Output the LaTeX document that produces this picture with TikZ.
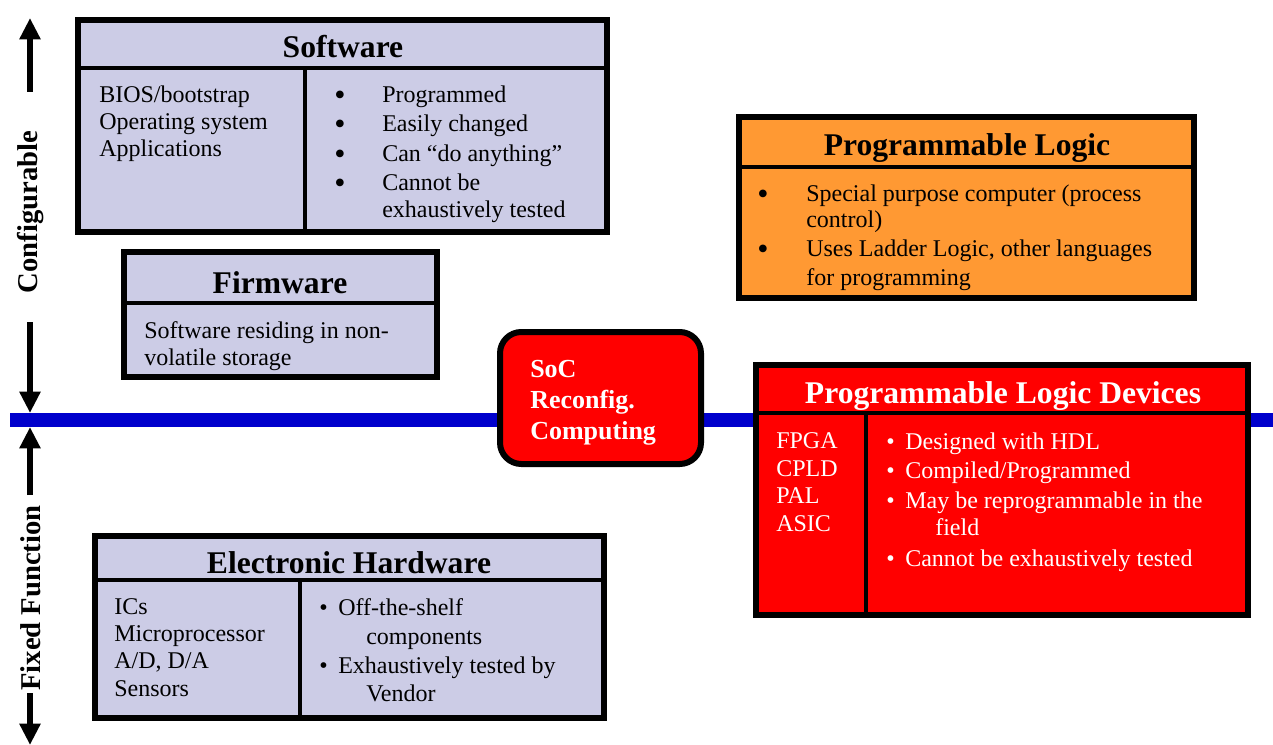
\documentclass[tikz,border=0pt]{standalone}
\usepackage{fontspec}
\setmainfont{Liberation Serif}
\usetikzlibrary{arrows.meta,fit}
\definecolor{lav}{HTML}{CCCCE6}
\definecolor{orng}{HTML}{FF9933}
\definecolor{rd}{HTML}{FF0000}
\definecolor{blu}{HTML}{0000CC}
\begin{document}
\begin{tikzpicture}[x=0.75pt,y=-0.75pt,
 box/.style={draw=black, line width=3.8pt, inner sep=0pt},
 rule/.style={draw=black, line width=2.6pt},
 txt/.style={font=\fontsize{18}{21}\selectfont, inner sep=0pt, anchor=base west},
 wtxt/.style={txt, text=white},
 bigbul/.style={font=\fontsize{24}{26}\selectfont, inner sep=0pt, anchor=center},
 ttl/.style={font=\bfseries\fontsize{23.7}{27}\selectfont, inner sep=0pt, anchor=base},
 soct/.style={font=\bfseries\fontsize{19.5}{23}\selectfont, inner sep=0pt, anchor=base west, text=white},
 axislbl/.style={font=\bfseries\fontsize{21.5}{25}\selectfont, inner sep=0pt, rotate=90},
 axarrow/.style={line width=4.5pt, -{Triangle[width=15pt,length=16pt]}},
]
\useasboundingbox (0,0) rectangle (1273,745);

% blue divider line
\coordinate (bl) at (10,420);
\coordinate (br) at (1273,420);
\draw[blu, line width=11pt] (bl) -- (br);

% left axis arrows
\coordinate (a1s) at (30,92);  \coordinate (a1e) at (30,18);
\coordinate (a2s) at (30,322); \coordinate (a2e) at (30,413);
\coordinate (a3s) at (30,495); \coordinate (a3e) at (30,427);
\coordinate (a4s) at (30,693); \coordinate (a4e) at (30,745);
\draw[axarrow] (a1s) -- (a1e);
\draw[axarrow] (a2s) -- (a2e);
\draw[axarrow] (a3s) -- (a3e);
\draw[axarrow] (a4s) -- (a4e);
\node[axislbl] (cfg) at (31,212) {Configurable};
\node[axislbl] (fix) at (31,598) {Fixed Function};

% Software
\node[box, fill=lav, fit={(78,20) (607,232)}] (sw) {};
\draw[rule] (78,68) -- (607,68);
\draw[rule] (305,68) -- (305,232);
\node[ttl] (swt) at (343,58) {Software};
\node[txt] (sw1) at (99,103) {BIOS/bootstrap};
\node[txt] (sw2) at (99,130) {Operating system};
\node[txt] (sw3) at (99,157) {Applications};
\node[bigbul] (swb1) at (340,98) {\textbullet};
\node[bigbul] (swb2) at (340,127) {\textbullet};
\node[bigbul] (swb3) at (340,157) {\textbullet};
\node[bigbul] (swb4) at (340,186) {\textbullet};
\node[txt] (sw4) at (382,103) {Programmed};
\node[txt] (sw5) at (382,132) {Easily changed};
\node[txt] (sw6) at (382,162) {Can “do anything”};
\node[txt] (sw7) at (382,191) {Cannot be};
\node[txt] (sw8) at (382,218) {exhaustively tested};

% Firmware
\node[box, fill=lav, fit={(124,252) (437,377)}] (fw) {};
\draw[rule] (124,303) -- (437,303);
\node[ttl] (fwt) at (280,293) {Firmware};
\node[txt] (fw1) at (144,338) {Software residing in non-};
\node[txt] (fw2) at (144,365) {volatile storage};

% Programmable Logic
\node[box, fill=orng, fit={(739,117) (1194,298)}] (pl) {};
\draw[rule] (739,167) -- (1194,167);
\node[ttl] (plt) at (967,156) {Programmable Logic};
\node[bigbul] (plb1) at (763,197) {\textbullet};
\node[bigbul] (plb2) at (763,252) {\textbullet};
\node[txt] (pl1) at (806,202) {Special purpose computer (process};
\node[txt] (pl2) at (806,228) {control)};
\node[txt] (pl3) at (806,257) {Uses Ladder Logic, other languages};
\node[txt] (pl4) at (806,285) {for programming};

% SoC
\node[box, line width=4.5pt, fill=rd, rounded corners=16pt, fit={(500,332) (701,464)}] (soc) {};
\node[soct] (soc1) at (530,377) {SoC};
\node[soct] (soc2) at (530,408) {Reconfig.};
\node[soct] (soc3) at (530,439) {Computing};

% Programmable Logic Devices
\node[box, fill=rd, fit={(756,365) (1248,615)}] (pld) {};
\draw[rule] (756,413) -- (1248,413);
\draw[rule] (866,413) -- (866,615);
\node[ttl, text=white] (pldt) at (1003,403) {Programmable Logic Devices};
\node[wtxt] (pd1) at (776,448) {FPGA};
\node[wtxt] (pd2) at (776,476) {CPLD};
\node[wtxt] (pd3) at (776,503) {PAL};
\node[wtxt] (pd4) at (776,531) {ASIC};
\node[wtxt] (pdb1) at (886,449) {\textbullet};
\node[wtxt] (pdb2) at (886,478) {\textbullet};
\node[wtxt] (pdb3) at (886,508) {\textbullet};
\node[wtxt] (pdb4) at (886,566) {\textbullet};
\node[wtxt] (pd5) at (905,449) {Designed with HDL};
\node[wtxt] (pd6) at (905,478) {Compiled/Programmed};
\node[wtxt] (pd7) at (905,508) {May be reprogrammable in the};
\node[wtxt] (pd8) at (935,535) {field};
\node[wtxt] (pd9) at (905,566) {Cannot be exhaustively tested};

% Electronic Hardware
\node[box, fill=lav, fit={(95,536) (604,718)}] (eh) {};
\draw[rule] (95,580) -- (604,580);
\draw[rule] (300,580) -- (300,718);
\node[ttl] (eht) at (349,573) {Electronic Hardware};
\node[txt] (eh1) at (114,614) {ICs};
\node[txt] (eh2) at (114,641) {Microprocessor};
\node[txt] (eh3) at (114,668) {A/D, D/A};
\node[txt] (eh4) at (114,696) {Sensors};
\node[txt] (ehb1) at (319,615) {\textbullet};
\node[txt] (ehb2) at (319,673) {\textbullet};
\node[txt] (eh5) at (338,615) {Off-the-shelf};
\node[txt] (eh6) at (366,644) {components};
\node[txt] (eh7) at (338,673) {Exhaustively tested by};
\node[txt] (eh8) at (366,701) {Vendor};
\end{tikzpicture}
\end{document}
